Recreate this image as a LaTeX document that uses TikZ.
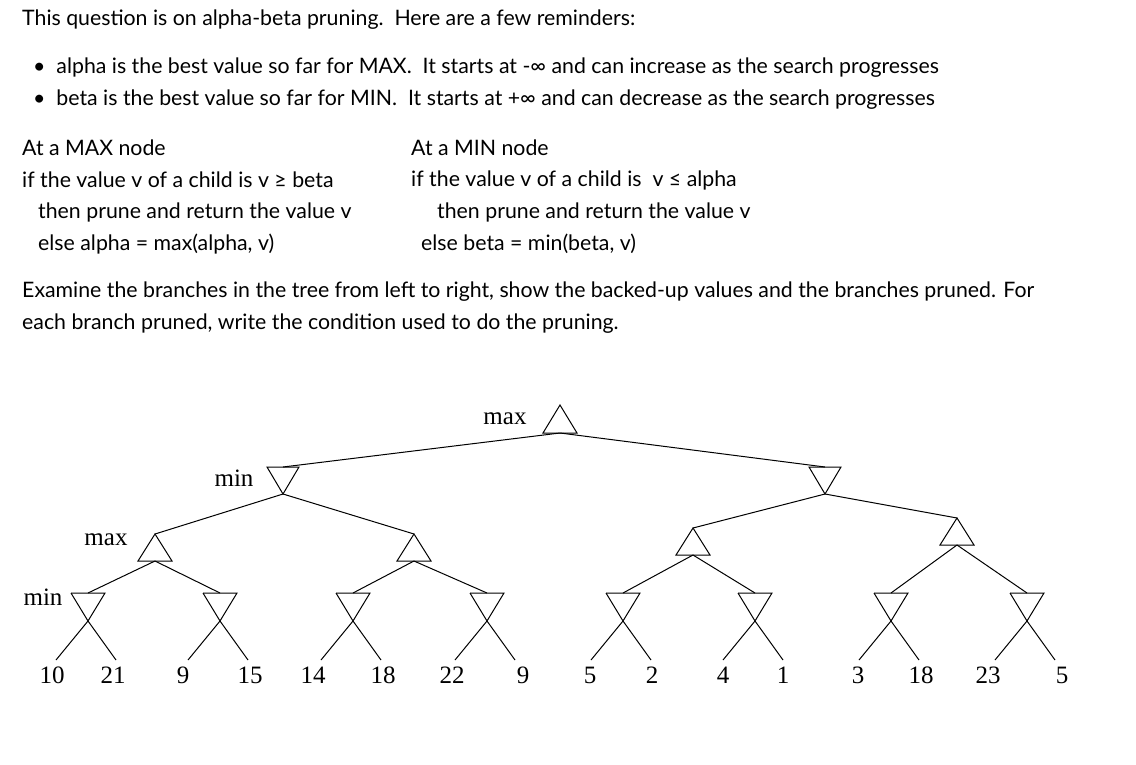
\documentclass[tikz,border=0pt]{standalone}
\usepackage{fontspec}
\setmainfont{Lato}
\newfontfamily\treefont{Liberation Serif}
\begin{document}
\begin{tikzpicture}[x=1pt,y=-1pt,
  txt/.style={anchor=west,inner sep=0,font=\fontsize{21.3}{24}\selectfont},
  lab/.style={inner sep=0,font=\treefont\fontsize{25}{28}\selectfont},
  edge/.style={line width=1pt},
  tri/.style={line width=1pt}]
\useasboundingbox (0,0) rectangle (1136,764);
\node[txt] (t1) at (22,20) {This question is on alpha-beta pruning.\ \ Here are a few reminders:};
\node[txt] (b1) at (33,68) {\textbullet\ \ alpha is the best value so far for MAX.\ \ It starts at -∞ and can increase as the search progresses};
\node[txt] (b2) at (33,100) {\textbullet\ \ beta is the best value so far for MIN.\ \ It starts at +∞ and can decrease as the search progresses};
\node[txt] (a1) at (22,148) {At a MAX node};
\node[txt] (a2) at (22,180) {if the value v of a child is v ≥ beta};
\node[txt] (a3) at (38,212) {then prune and return the value v};
\node[txt] (a4) at (38,244) {else alpha = max(alpha, v)};
\node[txt] (c1) at (411,148) {At a MIN node};
\node[txt] (c2) at (411,180) {if the value v of a child is\ \ v ≤ alpha};
\node[txt] (c3) at (437,212) {then prune and return the value v};
\node[txt] (c4) at (421,244) {else beta = min(beta, v)};
\node[txt] (e1) at (22,292) {Examine the branches in the tree from left to right, show the backed-up values and the branches pruned. For};
\node[txt] (e2) at (22,324) {each branch pruned, write the condition used to do the pruning.};
% root
\draw[tri] (560,405) -- (577,433) -- (543,433) -- cycle;
\coordinate (r) at (560,433);
\node[lab] (lroot) at (505,419) {max};
% level 1 min
\foreach \n/\c/\t in {m1/283/467, m2/825/467}{
  \draw[tri] (\c-16,\t) -- (\c+16,\t) -- (\c,\t+27) -- cycle;
  \coordinate (\n t) at (\c,\t);
  \coordinate (\n b) at (\c,\t+27);
}
\node[lab] (lmin1) at (234,478) {min};
\draw[edge] (r) -- (m1t);
\draw[edge] (r) -- (m2t);
% level 2 max
\foreach \n/\c/\t in {x1/155/534, x2/414/534, x3/693/528, x4/957/518}{
  \draw[tri] (\c,\t) -- (\c+17,\t+27) -- (\c-17,\t+27) -- cycle;
  \coordinate (\n t) at (\c,\t);
  \coordinate (\n b) at (\c,\t+27);
}
\node[lab] (lmax2) at (106,540) {max};
\draw[edge] (m1b) -- (x1t); \draw[edge] (m1b) -- (x2t);
\draw[edge] (m2b) -- (x3t); \draw[edge] (m2b) -- (x4t);
% level 3 min with leaves
\foreach \n/\c in {n1/88, n2/220, n3/353, n4/487, n5/623, n6/755, n7/891, n8/1027}{
  \coordinate (\n t) at (\c,593);
  \coordinate (\n L) at (\c-17,593);
  \coordinate (\n R) at (\c+17,593);
  \coordinate (\n a) at (\c,621);
  \coordinate (\n l) at (\c-32,660);
  \coordinate (\n r) at (\c+28,660);
  \draw[tri] (\n L) -- (\n R) -- (\n a) -- (\n l);
  \draw[tri] (\n L) -- (\n a) -- (\n r);
}
\node[lab] (lmin3) at (43,597) {min};
\draw[edge] (x1b) -- (n1t); \draw[edge] (x1b) -- (n2t);
\draw[edge] (x2b) -- (n3t); \draw[edge] (x2b) -- (n4t);
\draw[edge] (x3b) -- (n5t); \draw[edge] (x3b) -- (n6t);
\draw[edge] (x4b) -- (n7t); \draw[edge] (x4b) -- (n8t);
% leaves
\foreach \i/\x/\v in {1/52/10, 2/113/21, 3/183/9, 4/250/15, 5/313/14, 6/383/18, 7/452/22, 8/523/9, 9/590/5, 10/652/2, 11/723/4, 12/783/1, 13/858/3, 14/921/18, 15/988/23, 16/1062/5}{
  \node[lab] (v\i) at (\x,675) {\v};
}
\end{tikzpicture}
\end{document}
